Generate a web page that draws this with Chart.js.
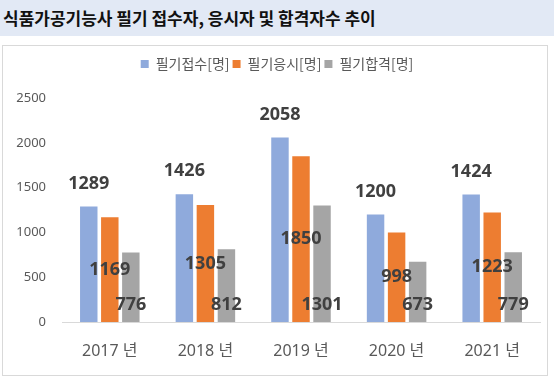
<!DOCTYPE html>
<html>
<head>
<meta charset="utf-8">
<script src="https://cdn.jsdelivr.net/npm/chart.js@4/dist/chart.umd.min.js"></script>
<style>
  html, body { margin: 0; padding: 0; background: #ffffff; }
  #wrap { position: relative; width: 554px; height: 383px; overflow: hidden; background: #ffffff; }
  #title {
    position: absolute; left: 0; top: 0; width: 554px; height: 36px;
    background: #E2E9F5; box-sizing: border-box; padding-left: 3px;
    font-family: "Noto Sans CJK KR", "Noto Sans", sans-serif; font-weight: bold;
    font-size: 17px; line-height: 36px; color: #111111; white-space: nowrap;
  }
  #box {
    position: absolute; left: 2px; top: 45px; width: 546px; height: 331px;
    box-sizing: border-box; border: 1px solid #D9D9D9;
  }
  #c { position: absolute; left: 0; top: 0; }
</style>
</head>
<body>
<div id="wrap">
  <div id="title">식품가공기능사 필기 접수자, 응시자 및 합격자수 추이</div>
  <div id="box"></div>
  <canvas id="c" width="554" height="383"></canvas>
</div>
<script>
const categories = ["2017 년", "2018 년", "2019 년", "2020 년", "2021 년"];
const seriesNames = ["필기접수[명]", "필기응시[명]", "필기합격[명]"];
const applied = [1289, 1426, 2058, 1200, 1424];
const tested = [1169, 1305, 1850, 998, 1223];
const passed = [776, 812, 1301, 673, 779];
const yTicks = [0, 500, 1000, 1500, 2000, 2500];
const colors = ["#8FAADC", "#ED7D31", "#A5A5A5"];

const labelPlugin = {
  id: "barLabels",
  beforeInit(chart) {
    const lg = chart.legend;
    if (lg) {
      const orig = lg.fit;
      lg.fit = function () { orig.call(this); this.height += 17; };
    }
  },
  afterDatasetsDraw(chart) {
    const ctx = chart.ctx;
    ctx.save();
    ctx.font = "bold 18px 'Noto Sans', sans-serif";
    ctx.fillStyle = "#404040";
    ctx.textAlign = "center";
    ctx.textBaseline = "middle";
    chart.data.datasets.forEach((ds, di) => {
      const meta = chart.getDatasetMeta(di);
      meta.data.forEach((bar, i) => {
        const v = ds.data[i];
        let y;
        if (di === 0) y = bar.y - 23;
        else if (di === 1) y = (bar.y + bar.base) / 2;
        else y = bar.base - 17;
        ctx.fillText(String(v), bar.x, y);
      });
    });
    ctx.restore();
  }
};

new Chart(document.getElementById("c"), {
  type: "bar",
  data: {
    labels: categories,
    datasets: [
      { label: seriesNames[0], data: applied, backgroundColor: colors[0] },
      { label: seriesNames[1], data: tested, backgroundColor: colors[1] },
      { label: seriesNames[2], data: passed, backgroundColor: colors[2] }
    ]
  },
  options: {
    responsive: false,
    animation: false,
    devicePixelRatio: 1,
    layout: { padding: { top: 54, left: 14, right: 14, bottom: 11 } },
    datasets: { bar: { categoryPercentage: 0.66, barPercentage: 0.83 } },
    plugins: {
      legend: {
        position: "top",
        labels: {
          boxWidth: 8, boxHeight: 8, padding: 3,
          color: "#595959",
          font: { family: "'Noto Sans CJK KR', 'Noto Sans', sans-serif", size: 14 }
        }
      },
      tooltip: { enabled: false }
    },
    scales: {
      x: {
        grid: { display: false, drawTicks: false },
        border: { display: true, color: "#D9D9D9", width: 1 },
        ticks: {
          color: "#595959", padding: 20,
          font: { family: "'Noto Sans', 'Noto Sans CJK KR', sans-serif", size: 16 }
        },
        afterFit(scale) { scale.height = 50; }
      },
      y: {
        min: 0, max: 2500,
        grid: { display: false, drawTicks: false },
        border: { display: false },
        afterBuildTicks(scale) { scale.ticks = yTicks.map(v => ({ value: v })); },
        ticks: {
          color: "#595959", padding: 16,
          font: { family: "'Noto Sans', sans-serif", size: 13 },
          callback: (v) => String(v)
        },
        afterFit(scale) { scale.width = 48; }
      }
    }
  },
  plugins: [labelPlugin]
});
</script>
</body>
</html>
